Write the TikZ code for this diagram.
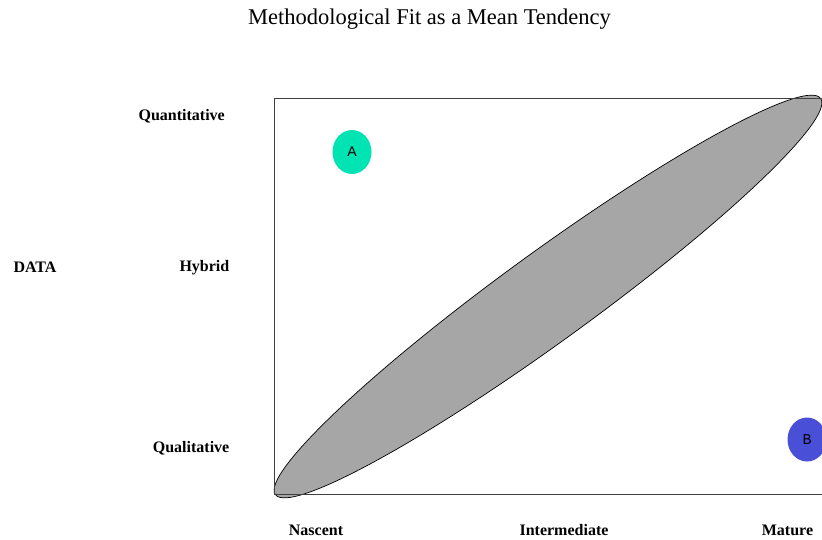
\documentclass[tikz,border=0pt]{standalone}
\usepackage{fontspec}
\setmainfont{Liberation Serif}
\newfontfamily\arialfont{Liberation Sans}
\newfontfamily\courierfont{Liberation Mono}
\usetikzlibrary{shapes.geometric,positioning}
\definecolor{fitgray}{HTML}{A6A6A6}
\definecolor{frameC}{HTML}{404040}
\definecolor{tealA}{HTML}{00E3B3}
\definecolor{blueB}{HTML}{4A4FD8}
\tikzset{
  axlab/.style={font=\fontsize{16}{18}\selectfont\bfseries, inner sep=0pt},
  blob/.style={ellipse, fill=#1, draw=none, minimum width=39pt, minimum height=44pt, inner sep=0pt},
  band/.style={ellipse, fill=fitgray, draw=black, line width=0.7pt, inner sep=0pt, outer sep=0pt},
}

\begin{document}
\begin{tikzpicture}[x=1pt,y=-1pt]
  \useasboundingbox (0,0) rectangle (822,539);
  % title
  \node[font=\fontsize{22.5}{26}\selectfont, inner sep=0pt] (title) at (429.5,19.5) {Methodological Fit as a Mean Tendency};
  % frame
  \coordinate (ll) at (274,494);
  \coordinate (ur) at (826,98);
  \node[band, minimum width=674pt, minimum height=89pt, rotate=36] (fit) at (548,296.5) {};
  \draw[frameC, line width=1pt] (ll) rectangle (ur);
  % the two cases
  \node[blob=tealA, font=\arialfont\fontsize{14}{16}\selectfont] (a) at (352,152) {A};
  \node[blob=blueB, font=\courierfont\fontsize{15}{16}\selectfont] (b) at (807,439.5) {B};
  % vertical axis
  \node[axlab, anchor=east] (quant) at (225,116) {Quantitative};
  \node[axlab, anchor=east] (hyb) at (229.5,267.5) {Hybrid};
  \node[axlab, anchor=east] (qual) at (229.5,448.5) {Qualitative};
  \node[axlab] (data) at (35,267.5) {DATA};
  % horizontal axis
  \node[axlab] (nasc) at (316,530) {Nascent};
  \node[axlab] (inter) at (564,530) {Intermediate};
  \node[axlab] (mat) at (787.5,530) {Mature};
\end{tikzpicture}
\end{document}
